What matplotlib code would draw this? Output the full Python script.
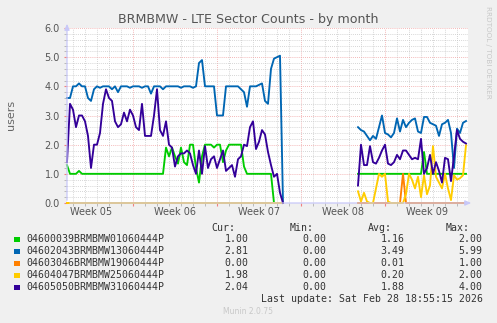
import numpy as np
import matplotlib
matplotlib.use("Agg")
import matplotlib.pyplot as plt
from matplotlib.ticker import MultipleLocator, FixedLocator, NullFormatter

# ---------------- data ----------------
title = "BRMBMW - LTE Sector Counts - by month"
ylabel = "users"
week_labels = ["Week 05", "Week 06", "Week 07", "Week 08", "Week 09"]
week_label_pos = [2.0, 9.0, 16.0, 23.0, 30.0]      # days from left edge
week_bounds = [5.5, 12.5, 19.5, 26.5]

series_names = ["04600039BRMBMW01060444P", "04602043BRMBMW13060444P",
                "04603046BRMBMW19060444P", "04604047BRMBMW25060444P",
                "04605050BRMBMW31060444P"]
series_colors = ["#00CC00", "#0066B3", "#FF8000", "#FFCC00", "#330099"]
cur_vals = ["1.00", "2.81", "0.00", "1.98", "2.04"]
min_vals = ["0.00", "0.00", "0.00", "0.00", "0.00"]
avg_vals = ["1.16", "3.49", "0.01", "0.20", "1.88"]
max_vals = ["2.00", "5.99", "1.00", "2.00", "4.00"]
last_update = "Last update: Sat Feb 28 18:55:15 2026"

t_pre = np.arange(73) * 0.25          # days
t_post = 24.25 + np.arange(37) * 0.25

green_pre = [1.3, 1.0, 1.0, 1.0,
             1.1, 1.0, 1.0, 1.0,
             1.0, 1.0, 1.0, 1.0,
             1.0, 1.0, 1.0, 1.0,
             1.0, 1.0, 1.0, 1.0,
             1.0, 1.0, 1.0, 1.0,
             1.0, 1.0, 1.0, 1.0,
             1.0, 1.0, 1.0, 1.0,
             1.0, 1.9, 1.6, 1.9,
             1.6, 1.35, 1.9, 1.4,
             1.3, 2.0, 2.0, 1.2,
             0.7, 1.6, 2.0, 2.0,
             2.0, 1.9, 2.0, 2.0,
             1.4, 1.8, 2.0, 2.0,
             2.0, 2.0, 2.0, 1.25,
             1.0, 1.0, 1.0, 1.0,
             1.0, 1.0, 1.0, 1.0,
             1.0, 0.0, 0.0, 0.0,
             0.0]
blue_pre = [3.6, 3.6, 4.0, 4.0,
            4.1, 4.0, 4.0, 3.6,
            3.5, 3.9, 4.0, 3.95,
            4.0, 4.0, 4.0, 3.9,
            4.0, 3.8, 4.0, 4.0,
            4.0, 3.95, 4.0, 4.0,
            4.0, 3.95, 4.0, 4.0,
            3.75, 4.0, 4.0, 4.0,
            3.9, 4.0, 4.0, 4.0,
            4.0, 4.0, 3.95, 4.0,
            4.0, 4.0, 3.95, 4.0,
            4.8, 4.9, 4.0, 4.0,
            4.0, 4.0, 3.0, 3.0,
            3.0, 4.0, 4.0, 4.0,
            4.0, 4.0, 3.9, 3.8,
            3.3, 4.0, 4.0, 4.0,
            4.05, 4.1, 3.5, 3.4,
            4.6, 4.95, 5.0, 5.05,
            0.0]
orange_pre = [0.0, 0.0, 0.0, 0.0, 0.0, 0.0, 0.0, 0.0, 0.0, 0.0, 0.0, 0.0,
              0.0, 0.0, 0.0, 0.0, 0.0, 0.0, 0.0, 0.0, 0.0, 0.0, 0.0, 0.0,
              0.0, 0.0, 0.0, 0.0, 0.0, 0.0, 0.0, 0.0, 0.0, 0.0, 0.0, 0.0,
              0.0, 0.0, 0.0, 0.0, 0.0, 0.0, 0.0, 0.0, 0.0, 0.0, 0.0, 0.0,
              0.0, 0.0, 0.0, 0.0, 0.0, 0.0, 0.0, 0.0, 0.0, 0.0, 0.0, 0.0,
              0.0, 0.0, 0.0, 0.0, 0.0, 0.0, 0.0, 0.0, 0.0, 0.0, 0.0, 0.0,
              0.0]
yellow_pre = [0.0, 0.0, 0.0, 0.0, 0.0, 0.0, 0.0, 0.0, 0.0, 0.0, 0.0, 0.0,
              0.0, 0.0, 0.0, 0.0, 0.0, 0.0, 0.0, 0.0, 0.0, 0.0, 0.0, 0.0,
              0.0, 0.0, 0.0, 0.0, 0.0, 0.0, 0.0, 0.0, 0.0, 0.0, 0.0, 0.0,
              0.0, 0.0, 0.0, 0.0, 0.0, 0.0, 0.0, 0.0, 0.0, 0.0, 0.0, 0.0,
              0.0, 0.0, 0.0, 0.0, 0.0, 0.0, 0.0, 0.0, 0.0, 0.0, 0.0, 0.0,
              0.0, 0.0, 0.0, 0.0, 0.0, 0.0, 0.0, 0.0, 0.0, 0.0, 0.0, 0.0,
              0.0]
purple_pre = [1.4, 3.4, 3.2, 2.6,
              3.0, 3.0, 2.8, 2.3,
              1.2, 2.0, 2.0, 2.4,
              3.4, 3.9, 3.6, 3.5,
              2.8, 2.6, 2.7, 3.1,
              2.8, 3.2, 3.0, 2.6,
              2.5, 3.4, 2.3, 2.3,
              2.3, 3.0, 3.9, 2.5,
              2.3, 2.8, 2.0, 1.9,
              1.25, 1.6, 1.7, 1.7,
              1.8, 1.7, 1.3, 1.0,
              1.8, 1.0, 1.95, 1.2,
              1.5, 1.6, 1.2, 1.5,
              1.8, 1.1, 1.2, 1.3,
              0.9, 1.5, 1.6, 2.0,
              1.95, 2.6, 2.8, 1.85,
              2.1, 2.5, 2.35, 1.75,
              1.3, 0.9, 1.0, 0.35,
              0.0]

green_post = [1.0, 1.0, 1.0,
              1.0, 1.0, 1.0, 1.0,
              1.0, 1.0, 1.0, 1.0,
              1.0, 1.0, 1.0, 1.0,
              1.0, 1.0, 1.0, 1.0,
              1.0, 1.0, 1.0, 1.75,
              1.0, 1.0, 1.0, 1.0,
              1.0, 1.0, 1.0, 1.0,
              1.0, 1.0, 1.0, 1.0,
              1.0, 1.0]
blue_post = [2.6, 2.5, 2.45,
             2.3, 2.15, 2.3, 2.2,
             2.6, 3.0, 2.4, 2.35,
             2.25, 2.4, 2.9, 2.45,
             2.85, 2.6, 2.75, 2.85,
             2.9, 2.45, 2.4, 2.95,
             2.95, 2.75, 2.7, 2.65,
             2.3, 2.7, 2.75, 2.85,
             2.4, 1.2, 2.55, 2.4,
             2.75, 2.81]
orange_post = [0.0, 0.0, 0.0,
               0.0, 0.0, 0.0, 0.0,
               0.0, 0.0, 0.0, 0.0,
               0.0, 0.0, 0.0, 0.0,
               1.0, 0.0, 0.0, 0.0,
               0.0, 0.0, 0.0, 0.0,
               0.0, 0.0, 0.0, 0.0,
               0.0, 0.0, 0.0, 0.0,
               0.0, 0.0, 0.0, 0.0,
               0.0, 0.0]
yellow_post = [0.4, 0.05, 0.35,
               0.05, 0.0, 0.0, 0.5,
               1.0, 0.9, 1.0, 0.05,
               0.0, 0.0, 0.0, 0.0,
               0.0, 0.3, 1.0, 0.8,
               0.5, 0.9, 0.2, 0.95,
               0.3, 0.6, 1.95, 0.9,
               0.7, 0.5, 1.0, 0.5,
               0.1, 0.95, 0.8, 0.85,
               0.95, 1.98]
purple_post = [0.6, 2.0, 1.3,
               1.3, 1.95, 1.4, 1.35,
               1.55, 1.8, 2.0, 1.35,
               1.3, 1.4, 1.65, 1.5,
               1.8, 1.8, 1.65, 1.5,
               1.55, 1.5, 2.2, 1.0,
               1.2, 1.65, 1.0, 1.4,
               1.1, 0.7, 1.55, 1.5,
               0.75, 1.6, 2.5, 2.2,
               2.1, 2.04]

pre_series = [green_pre, blue_pre, orange_pre, yellow_pre, purple_pre]
post_series = [green_post, blue_post, orange_post, yellow_post, purple_post]

# ---------------- figure ----------------
W, H = 497, 323
fig = plt.figure(figsize=(W / 100, H / 100), dpi=100, facecolor="#F0F0F0")

def fx(x):
    return x / W

def fy(y):
    return 1 - y / H

L, R, T, B = 67, 468, 28, 203
ax = fig.add_axes([fx(L), fy(B), (R - L) / W, (B - T) / H])
ax.set_facecolor("white")
ax.set_xlim(0, (R - L) / 12.0)
ax.set_ylim(0, 6)
for s in ax.spines.values():
    s.set_visible(False)

# grid
ax.xaxis.set_major_locator(FixedLocator(week_bounds))
ax.xaxis.set_minor_locator(FixedLocator(list(np.arange(0.5, 33.5, 1.0))))
ax.xaxis.set_major_formatter(NullFormatter())
ax.yaxis.set_major_locator(MultipleLocator(1.0))
ax.yaxis.set_minor_locator(MultipleLocator(0.2))
ax.yaxis.set_major_formatter(matplotlib.ticker.FormatStrFormatter("%.1f"))
ax.grid(which="minor", color="#C8C8C8", linestyle=(0, (1, 1.5)), linewidth=0.6)
ax.grid(which="major", color="#F0A0A0", linestyle=(0, (1, 1.5)), linewidth=0.6)
ax.set_axisbelow(True)
ax.tick_params(axis="y", which="both", labelsize=7, labelcolor="#555555", pad=3)
ax.tick_params(axis="x", which="major", length=2, color="#F08080", direction="out")
ax.tick_params(axis="x", which="minor", length=2, color="#B0B0B0", direction="out")
ax.tick_params(axis="y", which="major", length=2, color="#F08080", direction="out")
ax.tick_params(axis="y", which="minor", length=2, color="#B0B0B0", direction="out")

sec = ax.secondary_xaxis("bottom")
sec.set_xticks(week_label_pos)
sec.set_xticklabels(week_labels)
sec.tick_params(length=0, labelsize=7, colors="#555555", pad=3)
for s in sec.spines.values():
    s.set_visible(False)

# axis arrows
ax.annotate("", xy=(0, 1.04), xytext=(0, 0), xycoords="axes fraction",
            arrowprops=dict(arrowstyle="-|>,head_length=0.35,head_width=0.15",
                            color="#C8C8F8", lw=0.9), annotation_clip=False)
ax.annotate("", xy=(1.015, 0), xytext=(0, 0), xycoords="axes fraction",
            arrowprops=dict(arrowstyle="-|>,head_length=0.35,head_width=0.15",
                            color="#C8C8F8", lw=0.9), annotation_clip=False)

# data
for vals_pre, vals_post, col in zip(pre_series, post_series, series_colors):
    ax.plot(t_pre, vals_pre, color=col, lw=1.35, solid_joinstyle="round", clip_on=False)
    ax.plot(t_post, vals_post, color=col, lw=1.35, solid_joinstyle="round", clip_on=False)

# text
fig.text(fx(248), fy(19), title, ha="center", va="center", fontsize=9.1, color="#555555")
fig.text(fx(11), fy(115), ylabel, ha="center", va="center", rotation=90,
         fontsize=8, color="#666666")
fig.text(fx(488), fy(52), "RRDTOOL / TOBI OETIKER", ha="center", va="center",
         rotation=270, fontsize=5.2, color="#C8C8C8")

mono = "DejaVu Sans Mono"
fs = 7.1
tc = "#333333"
hy = 228
for txt, xr in zip(["Cur:", "Min:", "Avg:", "Max:"], [235, 313.5, 392, 470]):
    fig.text(fx(xr), fy(hy), txt, ha="right", va="center", family=mono, fontsize=fs, color=tc)
row_y = [239.5, 251.5, 263.5, 275.5, 287.5]
for i, name in enumerate(series_names):
    y = row_y[i]
    fig.patches.append(matplotlib.patches.Rectangle((fx(14), fy(y + 2.8)), 5.5 / W, 5.5 / H,
                                                    transform=fig.transFigure,
                                                    facecolor=series_colors[i], edgecolor="none"))
    fig.text(fx(26), fy(y), name, ha="left", va="center", family=mono, fontsize=fs, color=tc)
    for v, xr in zip([cur_vals[i], min_vals[i], avg_vals[i], max_vals[i]],
                     [248.3, 326, 404.3, 482.7]):
        fig.text(fx(xr), fy(y), v, ha="right", va="center", family=mono, fontsize=fs, color=tc)
fig.text(fx(482.7), fy(299.5), last_update, ha="right", va="center", family=mono,
         fontsize=fs, color=tc)
fig.text(fx(248), fy(312), "Munin 2.0.75", ha="center", va="center", fontsize=5.5, color="#C8C8C8")

fig.savefig("out.png", dpi=100, facecolor=fig.get_facecolor())
